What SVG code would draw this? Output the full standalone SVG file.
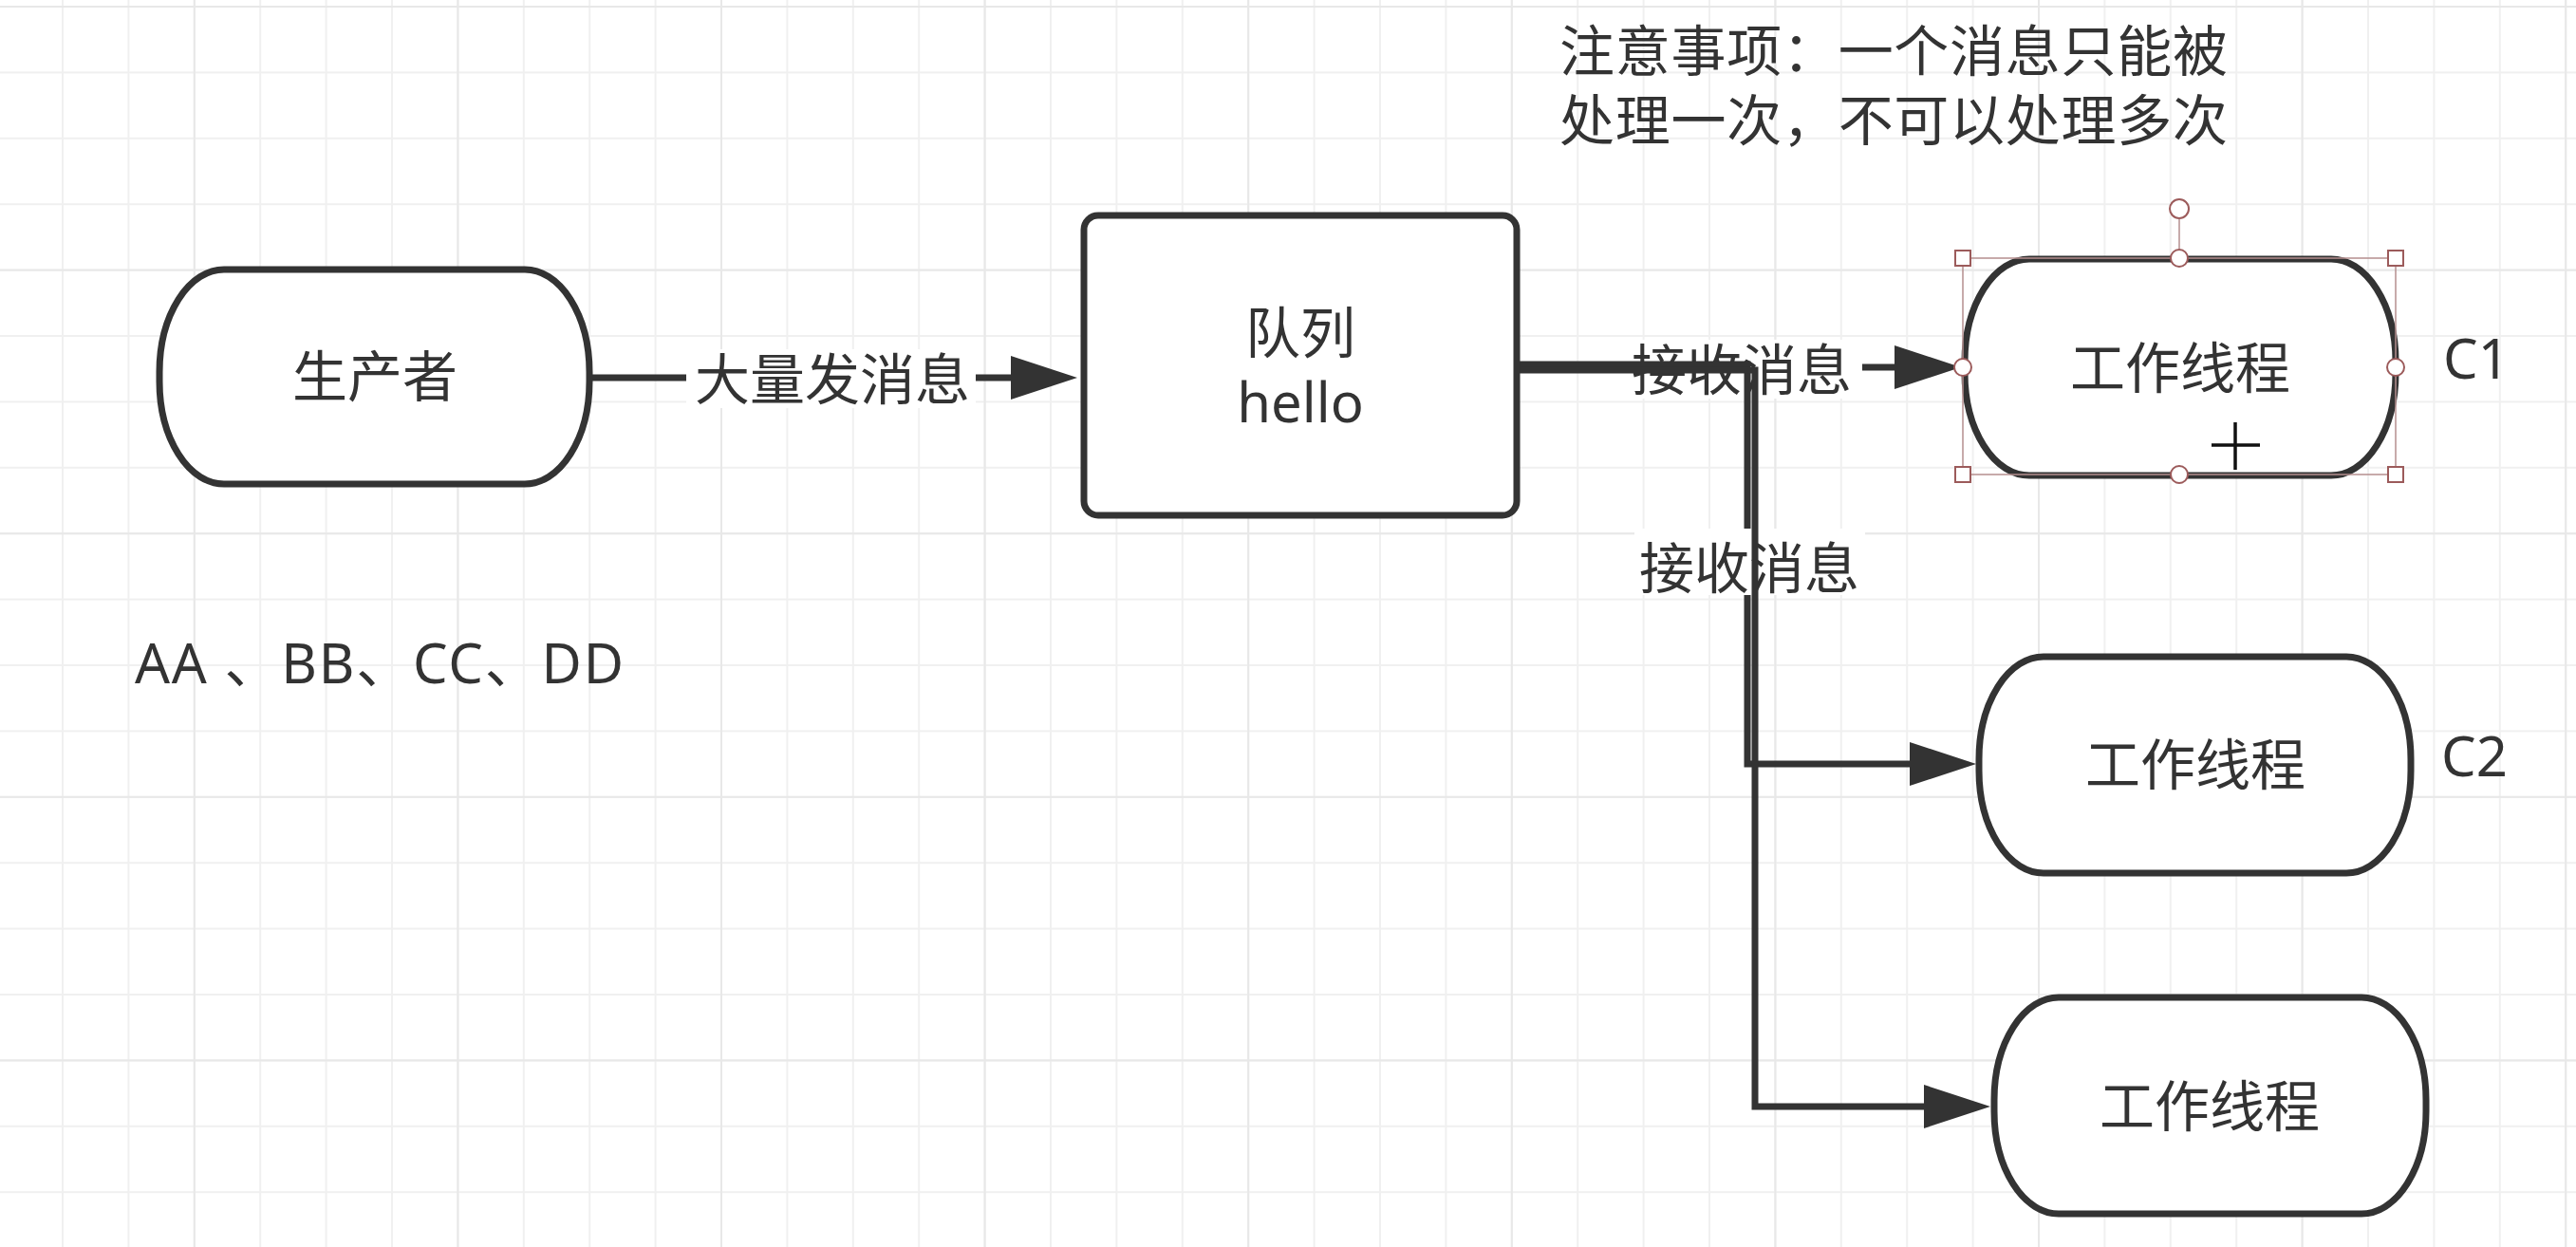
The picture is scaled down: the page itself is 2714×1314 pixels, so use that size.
<svg xmlns="http://www.w3.org/2000/svg" width="2714" height="1314" viewBox="0 0 2714 1314">
  <defs>
    <!-- canvas grid: fine cells plus a slightly darker line every fourth cell -->
    <pattern id="gridMinor" x="65" y="6" width="69.4" height="69.4" patternUnits="userSpaceOnUse">
      <path d="M1,0 V69.4 M0,1 H69.4" stroke="#f0f0f0" stroke-width="2" fill="none"/>
    </pattern>
    <pattern id="gridMajor" x="203.8" y="6" width="277.6" height="277.6" patternUnits="userSpaceOnUse">
      <path d="M1,0 V277.6 M0,1 H277.6" stroke="#e8e8e8" stroke-width="2" fill="none"/>
    </pattern>
    <marker id="arrow" markerUnits="userSpaceOnUse" markerWidth="70" markerHeight="46" refX="0" refY="23" orient="auto" overflow="visible">
      <path d="M0,0 L70,23 L0,46 Z" fill="#333333"/>
    </marker>
    <style>
      text { font-family: "Noto Sans", "Noto Sans CJK SC", sans-serif; font-size: 58px; fill: #333333; }
      .mid { text-anchor: middle; }
      .shape { fill: #ffffff; stroke: #333333; stroke-width: 7; }
      .wire { fill: none; stroke: #333333; stroke-width: 7; stroke-linejoin: miter; marker-end: url(#arrow); }
      .labelbg { fill: #ffffff; }
      .sel { fill: none; stroke: #b58f8f; stroke-width: 1.5; }
      .handle { fill: #ffffff; stroke: #9c5b5b; stroke-width: 2; }
    </style>
  </defs>

  <rect width="2714" height="1314" fill="#ffffff"/>
  <rect width="2714" height="1314" fill="url(#gridMinor)"/>
  <rect width="2714" height="1314" fill="url(#gridMajor)"/>

  <!-- connectors -->
  <g id="connectors">
    <path class="wire" d="M621,398 H1065"/>
    <rect class="labelbg" x="723" y="368" width="305" height="62"/>
    <text class="mid" x="877" y="421">大量发消息</text>

    <path class="wire" d="M1598,387 H1996"/>
    <rect class="labelbg" x="1712" y="358" width="250" height="62"/>
    <text class="mid" x="1835" y="411">接收消息</text>

    <path class="wire" d="M1598,384 H1841 V805 H2012"/>
    <rect class="labelbg" x="1722" y="557" width="243" height="70"/>
    <text class="mid" x="1843" y="620">接收消息</text>

    <path class="wire" d="M1598,390 H1849 V1166 H2027"/>
  </g>

  <!-- producer -->
  <g id="producer">
    <rect class="shape" x="168" y="284" width="453" height="226" rx="68" ry="108"/>
    <text class="mid" x="395" y="418">生产者</text>
  </g>

  <!-- queue -->
  <g id="queue">
    <rect class="shape" x="1142" y="227" width="456" height="316" rx="15" ry="15"/>
    <text class="mid" x="1370" y="372">队列</text>
    <text class="mid" x="1370" y="445">hello</text>
  </g>

  <!-- worker C1 (selected) -->
  <g id="worker-c1">
    <rect class="shape" x="2070" y="273" width="454" height="228" rx="68" ry="108"/>
    <text class="mid" x="2297" y="409">工作线程</text>
    <rect class="sel" x="2068" y="272" width="456" height="228"/>
    <line class="sel" x1="2296" y1="262" x2="2296" y2="231"/>
    <circle class="handle" cx="2296" cy="220" r="10"/>
    <rect class="handle" x="2060" y="264" width="16" height="16"/>
    <rect class="handle" x="2516" y="264" width="16" height="16"/>
    <rect class="handle" x="2060" y="492" width="16" height="16"/>
    <rect class="handle" x="2516" y="492" width="16" height="16"/>
    <circle class="handle" cx="2296" cy="272" r="9"/>
    <circle class="handle" cx="2296" cy="500" r="9"/>
    <circle class="handle" cx="2068" cy="387" r="9"/>
    <circle class="handle" cx="2524" cy="387" r="9"/>
    <path d="M2355,445 V495 M2330,469 H2381" stroke="#111111" stroke-width="3.5" fill="none"/>
  </g>
  <text x="2574" y="399">C1</text>

  <!-- worker C2 -->
  <g id="worker-c2">
    <rect class="shape" x="2085" y="692" width="455" height="228" rx="68" ry="108"/>
    <text class="mid" x="2313" y="827">工作线程</text>
  </g>
  <text x="2572" y="818">C2</text>

  <!-- worker C3 -->
  <g id="worker-c3">
    <rect class="shape" x="2101" y="1051" width="455" height="228" rx="68" ry="108"/>
    <text class="mid" x="2328" y="1187">工作线程</text>
  </g>

  <!-- notes -->
  <g id="note">
    <text x="1643" y="75" textLength="704" lengthAdjust="spacing">注意事项：一个消息只能被</text>
    <text x="1643" y="148" textLength="704" lengthAdjust="spacing">处理一次，不可以处理多次</text>
  </g>
  <g id="messages">
    <text x="142" y="720" textLength="515" lengthAdjust="spacing">AA 、BB、CC、DD</text>
  </g>
</svg>
